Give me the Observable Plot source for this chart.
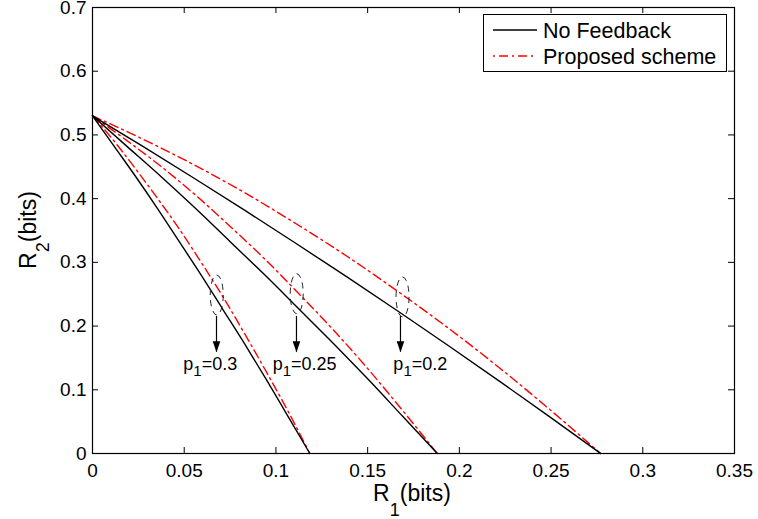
<!DOCTYPE html>
<html>
<head>
<meta charset="utf-8">
<script src="https://cdn.jsdelivr.net/npm/d3@7"></script>
<script src="https://cdn.jsdelivr.net/npm/@observablehq/plot@0.6"></script>
<style>
  body { margin: 0; background: #fff; }
  #chart { width: 758px; height: 519px; }
</style>
</head>
<body>
<div id="chart"></div>
<script>
// ---- data ----
const xTicks = [0, 0.05, 0.1, 0.15, 0.2, 0.25, 0.3, 0.35];
const xTickLabels = ["0", "0.05", "0.1", "0.15", "0.2", "0.25", "0.3", "0.35"];
const yTicks = [0, 0.1, 0.2, 0.3, 0.4, 0.5, 0.6, 0.7];
const yTickLabels = ["0", "0.1", "0.2", "0.3", "0.4", "0.5", "0.6", "0.7"];

const seriesNames = ["No Feedback", "Proposed scheme"];

// p1 = 0.2
const p02X      = [0, 0.0277, 0.0554, 0.0831, 0.1108, 0.1385, 0.1662, 0.1939, 0.2216, 0.2493, 0.277];
const p02NoFb   = [0.530, 0.4815, 0.432, 0.3815, 0.330, 0.2775, 0.224, 0.1695, 0.114, 0.0575, 0];
const p02Prop   = [0.530, 0.493, 0.453, 0.409, 0.361, 0.310, 0.255, 0.197, 0.135, 0.069, 0];
// p1 = 0.25
const p025X     = [0, 0.0188, 0.0376, 0.0564, 0.0752, 0.094, 0.1128, 0.1316, 0.1504, 0.1692, 0.188];
const p025NoFb  = [0.530, 0.482, 0.434, 0.384, 0.332, 0.280, 0.226, 0.172, 0.116, 0.058, 0];
const p025Prop  = [0.530, 0.491, 0.450, 0.405, 0.356, 0.305, 0.250, 0.193, 0.132, 0.067, 0];
// p1 = 0.3
const p03X      = [0, 0.01185, 0.0237, 0.03555, 0.0474, 0.05925, 0.0711, 0.08295, 0.0948, 0.10665, 0.1185];
const p03NoFb   = [0.530, 0.482, 0.434, 0.384, 0.332, 0.280, 0.226, 0.172, 0.116, 0.058, 0];
const p03Prop   = [0.530, 0.490, 0.446, 0.400, 0.352, 0.300, 0.246, 0.188, 0.128, 0.066, 0];

// annotations
const annLabels  = ["0.3", "0.25", "0.2"];
const annEllX    = [0.068, 0.1116, 0.1693];
const annEllY    = [0.248, 0.250, 0.245];
const annArrowX  = [0.0676, 0.1112, 0.1679];
const annArrowY1 = 0.215;
const annArrowY2 = 0.159;
const annTextX   = [0.0498, 0.0985, 0.1643];
const annTextY   = 0.130;

// ---- build tables ----
const curves = [
  {p: "0.2", x: p02X, noFb: p02NoFb, prop: p02Prop},
  {p: "0.25", x: p025X, noFb: p025NoFb, prop: p025Prop},
  {p: "0.3", x: p03X, noFb: p03NoFb, prop: p03Prop}
];
const rows = [];
for (const c of curves) {
  c.x.forEach((xv, i) => {
    rows.push({p: c.p, scheme: seriesNames[0], x: xv, y: c.noFb[i]});
    rows.push({p: c.p, scheme: seriesNames[1], x: xv, y: c.prop[i]});
  });
}
const arrows = annArrowX.map((x, i) => ({x, y1: annArrowY1, y2: annArrowY2}));

// ---- layout ----
const W = 758, H = 519;
const mL = 92, mR = 24, mT = 7, mB = 66;
const plotW = W - mL - mR, plotH = H - mT - mB;
const tickLen = 6;
const FONT = "'Liberation Sans', Arial, Helvetica, sans-serif";
const TICK_FS = 19;

// narrow filled arrow head with its tip at the anchor point
const arrowHead = {
  draw(context) {
    context.moveTo(0, 0);
    context.lineTo(-3.8, -11);
    context.lineTo(3.8, -11);
    context.closePath();
  }
};

const plot = Plot.plot({
  width: W, height: H,
  marginLeft: mL, marginRight: mR, marginTop: mT, marginBottom: mB,
  x: {domain: [0, 0.35]},
  y: {domain: [0, 0.7]},
  style: {fontFamily: FONT, fontSize: TICK_FS + "px", color: "black", background: "white", overflow: "visible"},
  marks: [
    Plot.tickX(xTicks, {x: d => d, insetTop: plotH - tickLen, stroke: "black", strokeWidth: 1}),
    Plot.tickX(xTicks, {x: d => d, insetBottom: plotH - tickLen, stroke: "black", strokeWidth: 1}),
    Plot.tickY(yTicks, {y: d => d, insetRight: plotW - tickLen, stroke: "black", strokeWidth: 1}),
    Plot.tickY(yTicks, {y: d => d, insetLeft: plotW - tickLen, stroke: "black", strokeWidth: 1}),
    Plot.axisX({ticks: xTicks, tickFormat: d => xTickLabels[xTicks.indexOf(d)], tickSize: 0, tickPadding: 10, label: null, fontSize: TICK_FS}),
    Plot.axisY({ticks: yTicks, tickFormat: d => yTickLabels[yTicks.indexOf(d)], tickSize: 0, tickPadding: 6, label: null, fontSize: TICK_FS}),
    Plot.line(rows.filter(r => r.scheme === seriesNames[1]), {
      x: "x", y: "y", z: "p", stroke: "#ff0000", strokeWidth: 1.4,
      strokeDasharray: "9,4,2,4", curve: "monotone-x"
    }),
    Plot.line(rows.filter(r => r.scheme === seriesNames[0]), {
      x: "x", y: "y", z: "p", stroke: "black", strokeWidth: 1.4, curve: "monotone-x"
    }),
    Plot.ruleX(arrows, {x: "x", y1: "y1", y2: "y2", stroke: "black", strokeWidth: 1.2}),
    Plot.dot(arrows, {x: "x", y: "y2", symbol: arrowHead, r: 4, fill: "black", stroke: null}),
    Plot.frame({stroke: "black", strokeWidth: 1.2})
  ]
});

document.getElementById("chart").appendChild(plot);

const svg = d3.select(plot);
svg.selectAll('[aria-label$="tick label"]').attr("font-size", TICK_FS)
  .selectAll("text").attr("font-size", TICK_FS);

const xs = plot.scale("x"), ys = plot.scale("y");

// dashed ellipses
annEllX.forEach((cx, i) => {
  svg.append("ellipse")
    .attr("cx", xs.apply(cx)).attr("cy", ys.apply(annEllY[i]))
    .attr("rx", 6.5).attr("ry", 20)
    .attr("fill", "none").attr("stroke", "#222").attr("stroke-width", 1)
    .attr("stroke-dasharray", "6,5");
});

// p1 labels
annLabels.forEach((lab, i) => {
  const t = svg.append("text")
    .attr("x", xs.apply(annTextX[i])).attr("y", ys.apply(annTextY))
    .attr("text-anchor", "start")
    .attr("font-family", FONT).attr("font-size", 18).attr("fill", "black");
  t.append("tspan").text("p");
  t.append("tspan").attr("font-size", 15).attr("dy", 6).text("1");
  t.append("tspan").attr("dy", -6).text("=" + lab);
});

// axis titles
const xl = svg.append("text")
  .attr("x", mL + plotW / 2 - 1).attr("y", 501).attr("text-anchor", "middle")
  .attr("font-family", FONT).attr("font-size", 23).attr("fill", "black");
xl.append("tspan").text("R");
xl.append("tspan").attr("font-size", 18).attr("dy", 15).text("1");
xl.append("tspan").attr("dy", -15).text("(bits)");

const yl = svg.append("text")
  .attr("transform", `translate(36,${mT + plotH / 2}) rotate(-90)`)
  .attr("text-anchor", "middle")
  .attr("font-family", FONT).attr("font-size", 23).attr("fill", "black");
yl.append("tspan").text("R");
yl.append("tspan").attr("font-size", 18).attr("dy", 13).text("2");
yl.append("tspan").attr("dy", -13).text("(bits)");

// legend
const lg = svg.append("g").attr("font-family", FONT).attr("font-size", 21.5).attr("text-anchor", "start");
lg.append("rect").attr("x", 483.5).attr("y", 14.5).attr("width", 243).attr("height", 57)
  .attr("fill", "white").attr("stroke", "black").attr("stroke-width", 1);
lg.append("line").attr("x1", 493).attr("x2", 537).attr("y1", 30).attr("y2", 30)
  .attr("stroke", "black").attr("stroke-width", 1.4);
lg.append("line").attr("x1", 493).attr("x2", 537).attr("y1", 56).attr("y2", 56)
  .attr("stroke", "#ff0000").attr("stroke-width", 1.4).attr("stroke-dasharray", "2,4,9,4");
lg.append("text").attr("x", 543).attr("y", 37.5).attr("fill", "black").text(seriesNames[0]);
lg.append("text").attr("x", 543).attr("y", 63.5).attr("fill", "black").text(seriesNames[1]);
</script>
</body>
</html>
